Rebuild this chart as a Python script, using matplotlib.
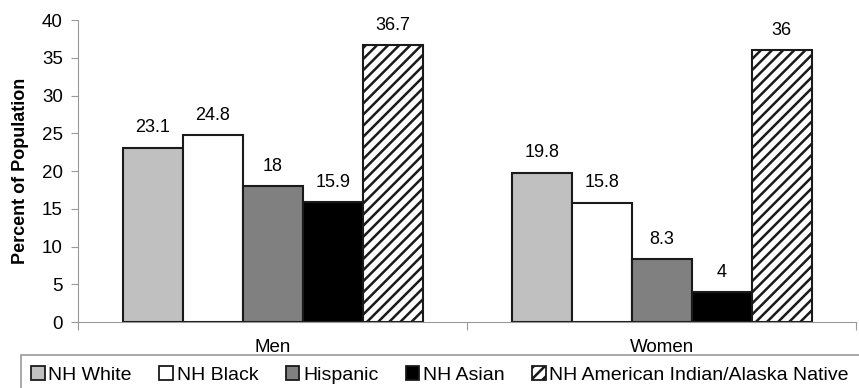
import numpy as np
import matplotlib.pyplot as plt
from matplotlib.patches import Patch, Rectangle

plt.rcParams['font.family'] = ['Liberation Sans', 'DejaVu Sans']
plt.rcParams['hatch.linewidth'] = 1.8

groups = ["Men", "Women"]
series = ["NH White", "NH Black", "Hispanic", "NH Asian",
          "NH American Indian/Alaska Native"]
values = [
    [23.1, 19.8],
    [24.8, 15.8],
    [18, 8.3],
    [15.9, 4],
    [36.7, 36],
]
labels = [["23.1", "19.8"], ["24.8", "15.8"], ["18", "8.3"],
          ["15.9", "4"], ["36.7", "36"]]
fills = ["#c0c0c0", "white", "#808080", "black", "white"]
hatches = [None, None, None, None, "///"]

fig = plt.figure(figsize=(8.59, 3.88), dpi=100)
ax = fig.add_axes([0.091, 0.17, 0.906, 0.778])

x = np.arange(len(groups))
w = 0.154
for i, name in enumerate(series):
    pos = x + (i - 2) * w
    ax.bar(pos, values[i], width=w, color=fills[i], edgecolor="#1a1a1a",
           linewidth=1.5, hatch=hatches[i], zorder=2)
    for p, v, t in zip(pos, values[i], labels[i]):
        ax.text(p, v + 1.5, t, ha="center", va="bottom", fontsize=13)

ax.set_xlim(-0.5, 1.5)
ax.set_ylim(0, 40)
ax.set_yticks(range(0, 41, 5))
ax.tick_params(axis="y", labelsize=13.5, length=5, color="#999999", pad=6)
ax.set_xticks([-0.5, 0.5, 1.5])
ax.set_xticklabels([])
ax.tick_params(axis="x", length=6, color="#999999")
ax.set_xticks(x, minor=True)
ax.set_xticklabels(groups, minor=True, fontsize=13.5)
ax.tick_params(axis="x", which="minor", length=0, pad=12)
for s in ["top", "right"]:
    ax.spines[s].set_visible(False)
for s in ["left", "bottom"]:
    ax.spines[s].set_color("#999999")
ax.set_ylabel("Percent of Population", fontsize=13, fontweight="bold")
ax.yaxis.set_label_coords(-0.063, 0.5)

# legend box running off the right and bottom edges
fig.patches.append(Rectangle((21 / 859, -0.2), 1.0, 0.2 + 1 - 355 / 388,
                             transform=fig.transFigure, fill=False,
                             edgecolor="#999999", linewidth=1.2))

handles = [Patch(facecolor=fills[i], edgecolor="#1a1a1a", hatch=hatches[i],
                 linewidth=1.3, label=series[i]) for i in range(len(series))]
leg = fig.legend(handles=handles, loc="center left", ncol=5,
                 bbox_to_anchor=(31 / 859, 1 - 375 / 388),
                 fontsize=14, frameon=False, borderpad=0, borderaxespad=0,
                 handlelength=0.7, handleheight=0.7, handletextpad=0.2,
                 columnspacing=1.4)

fig.savefig("out.png", dpi=100)
